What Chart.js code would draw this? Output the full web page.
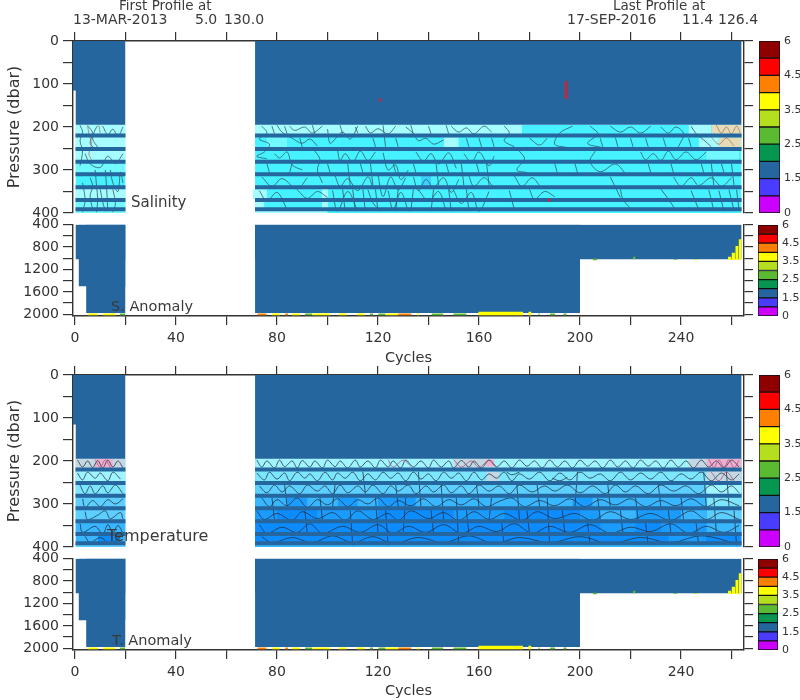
<!DOCTYPE html>
<html>
<head>
<meta charset="utf-8">
<title>Argo float sections</title>
<script src="https://cdn.jsdelivr.net/npm/chart.js@4"></script>
<style>
  body { margin: 0; background: #fff; }
  #page { position: relative; width: 800px; height: 700px; overflow: hidden; font-family: "DejaVu Sans", sans-serif; color: #3a3a3a; }
  canvas { position: absolute; }
  .lbl { position: absolute; white-space: nowrap; line-height: 1; transform: translateY(-50%); z-index: 10; }
</style>
</head>
<body>
<div id="page"></div>
<script>
// DATA //
const profileHeaders = ['First Profile at', 'Last Profile at']
const firstProfile = ['13-MAR-2013', '5.0', '130.0']
const lastProfile = ['17-SEP-2016', '11.4', '126.4']
const panelTitles = ['Salinity', 'S. Anomaly', 'Temperature', 'T. Anomaly']

const cycleTicks = [0, 20, 40, 60, 80, 100, 120, 140, 160, 180, 200, 220, 240, 260]
const cycleLabels = [0, 40, 80, 120, 160, 200, 240]
const upperTicks = [0, 50, 100, 150, 200, 250, 300, 350, 400]
const upperLabels = [0, 100, 200, 300, 400]
const lowerTicks = [400, 600, 800, 1000, 1200, 1400, 1600, 1800, 2000]
const lowerLabels = [400, 800, 1200, 1600, 2000]
const colorbarTicks = ['0', '1.5', '2.5', '3.5', '4.5', '6']
const colorbarBinTops = [1, 1.5, 2, 2.5, 3, 3.5, 4, 4.5, 5, 6]

// cycles with data, and depth where the upper block stops
const coveredCycles = [[0.2, 20], [71.3, 264]]
const shallowSliver = [-0.8, 0.5, 115]
const upperBlockBottom = 195
const thickLevels = [220, 251, 281, 310, 340, 370, 391]

// lower panels: first cycle, last cycle, deepest pressure
const anomalyColumns = [[0.2, 20, 1020], [1.4, 20, 1500], [4.4, 20, 1975], [71.3, 264, 1020], [71.3, 200, 1975]]
// first cycle, last cycle, top, bottom, value
const anomalyPatches = [
  [258.6, 260, 974, 1032, 3.8], [260, 261.5, 902, 1032, 3.8], [261.5, 262.8, 783, 1032, 3.8], [262.8, 264, 664, 1025, 3.8],
  [205, 206.8, 1010, 1035, 2.8], [221, 222, 975, 1020, 2.8], [237, 238.5, 1015, 1030, 2.8], [245, 246.5, 1015, 1030, 3.3],
  [159.7, 177.5, 1955, 2015, 3.8], [179.5, 180.8, 1955, 2015, 3.8]
]
const anomalyDashes = [
  [4.9, 9.2, 3.8], [11, 16.2, 3.8], [17.8, 19.8, 2.8],
  [72.2, 75.9, 4.2], [77.9, 81.2, 3.8], [83.2, 84.5, 4.2], [85.8, 89.1, 3.8], [91.1, 94, 2.8], [94, 101, 3.8],
  [104.3, 107.6, 3.8], [111.5, 114.8, 3.8], [116.8, 118.1, 2.8], [120.1, 123, 2.8], [123, 128, 3.8], [128, 133.3, 4.2], [135.3, 136.4, 3.8],
  [141.2, 145.9, 2.8], [149.8, 155.1, 2.8], [183.5, 184.1, 2.8], [188.1, 190.1, 2.8], [193.4, 194.7, 2.8]
]

// salinity background: first cycle, last cycle, top, bottom, shade
const salinityCells = [
  [0.2, 20, 195, 400, 'base'], [71.3, 264, 195, 400, 'base'],
  [0.2, 20, 195, 277, 'light'], [0.2, 20, 277, 308, 'mid'], [0.2, 20, 342, 368, 'light'], [0.2, 20, 368, 400, 'mid'],
  [71.3, 177, 195, 217, 'light'], [243, 252, 195, 217, 'light'], [252, 264, 195, 217, 'warm'],
  [76, 84, 224, 248, 'mid'], [146, 152, 224, 248, 'light'], [247, 255, 224, 248, 'light'], [255, 264, 224, 248, 'warm'],
  [250, 263, 255, 277, 'mid'], [70.5, 76, 345, 368, 'light'], [71.3, 75, 374, 390, 'light'],
  [97.7, 100.3, 342, 395, 'light'], [137, 141, 314, 338, 'deep'], [71.3, 100, 394, 400, 'light']
]
const salinityContours = [
  [2, 196, 3, 212, 2, 232, 3, 255, 2, 290], [5, 197, 7, 214, 6, 238, 8, 250, 9, 248, 7, 228, 8, 206, 9, 197],
  [11, 198, 13, 218, 15, 205, 17, 222, 19, 200], [4, 262, 6, 286, 10, 294, 13, 268, 16, 285, 19, 262],
  [6, 318, 7, 338, 6, 360, 7, 392], [14, 300, 15, 330, 17, 350, 18, 305, 19, 330], [10, 345, 11, 375, 12, 396],
  [3, 330, 4, 370, 3, 398], [15, 345, 16, 378, 15, 398], [8, 300, 8.5, 335, 9, 370, 8.5, 398], [12, 300, 12.5, 340, 13, 396],
  [74, 198, 76, 214, 73, 228, 77, 240, 75, 258, 72, 268, 76, 274], [80, 196, 82, 212, 86, 226, 90, 238, 93, 228, 96, 244],
  [85, 198, 87, 208, 91, 200, 94, 214, 98, 198], [100, 205, 101, 238, 103, 228, 106, 212, 109, 228, 112, 198],
  [115, 198, 117, 214, 120, 204, 124, 216, 127, 198], [131, 200, 134, 215, 136, 232, 139, 226, 142, 240, 146, 230],
  [149, 198, 152, 212, 155, 202, 158, 216, 162, 198, 165, 212], [79, 262, 81, 272, 84, 258, 86, 288, 90, 300],
  [95, 256, 97, 275, 96, 300, 98, 330], [104, 255, 105, 278, 107, 262, 110, 282, 113, 256, 116, 278, 119, 258],
  [122, 260, 124, 300, 127, 288, 129, 322, 132, 300], [135, 258, 138, 280, 141, 262, 144, 286, 148, 260, 151, 296],
  [154, 262, 157, 282, 160, 258, 164, 290, 166, 268], [74, 316, 78, 338, 82, 320, 88, 344, 92, 318],
  [103, 314, 105, 338, 108, 320, 112, 348, 116, 316, 118, 342], [120, 312, 122, 362, 125, 316, 128, 346, 131, 318],
  [134, 316, 136, 348, 139, 322, 142, 340, 146, 318, 149, 352, 152, 322], [156, 314, 158, 338, 162, 318, 166, 342],
  [73, 348, 76, 372, 80, 352, 84, 392], [88, 346, 92, 366, 96, 350, 100, 364], [102, 348, 104, 396, 108, 350, 112, 396],
  [116, 346, 118, 376, 121, 396], [124, 348, 126, 392, 129, 352, 132, 396], [136, 346, 140, 372, 144, 350, 147, 396],
  [150, 348, 153, 378, 157, 352, 160, 396, 164, 350],
  [78, 198, 79, 216], [83, 198, 84, 216], [89, 226, 90, 246], [94, 196, 95, 216], [105, 196, 106, 216], [111, 200, 112, 214], [118, 226, 119, 246],
  [122, 196, 123, 246], [127, 226, 128, 246], [133, 196, 134, 216], [140, 198, 141, 216], [147, 196, 148, 216], [155, 226, 156, 246],
  [160, 226, 161, 246], [165, 226, 166, 246], [108, 285, 109, 336], [113, 285, 114, 306], [117, 285, 118, 336], [126, 285, 127, 306],
  [134, 285, 135, 306], [143, 285, 144, 336], [147, 285, 148, 306], [153, 285, 154, 336], [159, 285, 160, 306], [163, 285, 164, 336],
  [76, 285, 77, 306], [86, 285, 85, 306], [100, 285, 101, 306], [106, 345, 107, 396], [110, 345, 111, 396], [114, 345, 115, 396],
  [119, 345, 120, 396], [128, 345, 127, 396], [134, 345, 133, 396], [142, 345, 141, 396], [148, 345, 149, 396], [155, 345, 156, 396],
  [170, 198, 172, 214, 170, 232, 174, 246], [180, 226, 184, 242, 187, 226], [197, 198, 192, 214, 190, 240, 195, 248],
  [204, 198, 207, 216, 203, 238, 209, 248], [212, 198, 216, 212, 220, 200, 224, 214, 228, 198],
  [232, 200, 235, 214, 238, 200, 241, 216, 239, 246], [244, 198, 246, 216, 249, 230, 252, 246],
  [176, 256, 178, 274, 175, 300, 179, 306], [206, 256, 204, 280, 208, 304, 214, 286, 218, 308],
  [224, 258, 226, 276, 229, 262, 232, 278, 235, 256, 238, 276, 242, 258, 246, 276, 250, 258],
  [174, 314, 177, 338, 181, 318, 184, 336], [212, 316, 214, 340, 216, 364], [237, 316, 240, 338, 244, 318, 247, 336, 252, 318, 256, 338, 260, 318],
  [172, 348, 174, 392], [180, 345, 182, 368, 186, 350, 190, 362], [216, 345, 217, 368, 220, 390], [232, 344, 235, 368, 238, 394],
  [244, 348, 247, 392], [251, 346, 253, 394], [255, 348, 257, 396], [259, 346, 261, 394], [262, 346, 263, 394],
  [208, 226, 209, 246], [214, 224, 215, 246], [220, 226, 221, 246], [226, 226, 227, 246], [233, 226, 234, 246], [243, 226, 244, 246],
  [248, 285, 249, 306], [252, 285, 253, 336], [256, 285, 257, 306], [260, 285, 261, 336], [236, 285, 237, 306], [227, 285, 228, 306],
  [190, 285, 191, 306], [198, 285, 199, 306]
]
const salinityWarmContours = [
  [5, 197, 5.5, 215, 6.5, 240, 5.5, 262, 6.5, 276], [9.5, 197, 10, 215], [254, 196, 256, 214, 258, 200, 260, 216, 262, 198, 263.5, 214],
  [252, 224, 255, 240, 258, 226, 261, 244]
]
const salinitySpikes = [[194.5, 93, 194.5, 135], [120.8, 134, 120.8, 140], [187.7, 367, 187.7, 373]]

// temperature background
const temperatureCells = [
  [0.2, 20, 195, 400, 't3'], [71.3, 264, 195, 400, 't5'],
  [0.2, 20, 195, 217, 'grey'], [8, 15, 195, 217, 'pink'], [0.2, 20, 217, 248, 't0'], [0.2, 20, 248, 278, 't1'], [0.2, 20, 278, 340, 't2'],
  [0.2, 20, 340, 370, 't3'], [9, 18, 365, 392, 't5'], [0.2, 20, 394, 400, 't2'],
  [71.3, 264, 195, 217, 't0'], [71.3, 264, 217, 248, 't1'], [71.3, 264, 248, 278, 't2'], [71.3, 250, 278, 310, 't3'],
  [71.3, 208, 310, 340, 't4'], [208, 250, 310, 340, 't3'], [71.3, 264, 370, 392, 't5'], [71.3, 264, 394, 400, 't3'],
  [84, 92, 285, 308, 't4'], [104, 112, 285, 308, 't4'], [120, 135, 285, 308, 't4'], [197, 205, 285, 308, 't4'],
  [80, 96, 314, 338, 't5'], [120, 150, 314, 338, 't5'], [170, 200, 314, 338, 't5'], [222, 240, 314, 338, 't4'],
  [177, 200, 345, 368, 't5'], [208, 222, 345, 368, 't4'], [232, 250, 345, 368, 't4'],
  [150, 166, 195, 217, 'grey'], [163, 168, 225, 247, 'grey'], [163, 166, 197, 212, 'pink'], [243, 250, 195, 217, 'grey'],
  [250, 264, 195, 217, 'pink'], [250, 264, 217, 248, 'grey'], [250, 264, 248, 278, 't0'], [250, 264, 278, 310, 't1'],
  [250, 264, 310, 340, 't2'], [250, 264, 340, 370, 't3'], [235, 250, 370, 392, 't4']
]
const temperatureContours = [
  [1, 198, 3, 214, 5, 200, 7, 215, 9, 199, 11, 216, 13, 198, 15, 214, 17, 200, 19, 216],
  [1, 228, 3, 244, 5, 226, 8, 240, 10, 228, 13, 246, 15, 226, 18, 242],
  [2, 256, 4, 276, 6, 258, 8, 276, 11, 258, 13, 274, 16, 256, 19, 276],
  [3, 288, 4, 308, 7, 292, 10, 306, 13, 290, 16, 300, 19, 288], [4, 318, 5, 336, 9, 326, 12, 316, 14, 334, 18, 320, 19, 336],
  [2, 346, 3, 366, 8, 352, 11, 370, 13, 348, 15, 366, 17, 350, 19, 368], [4, 375, 6, 390, 10, 378, 14, 392, 18, 376],
  [72, 198, 74, 214, 76, 200, 79, 216, 81, 198, 83, 213, 86, 200, 88, 216, 90, 199, 93, 214, 95, 200, 98, 216, 100, 198, 103, 213, 105, 200, 108, 216, 111, 198, 113, 214, 116, 200, 119, 216, 121, 198, 124, 214, 126, 200, 129, 216, 131, 198, 134, 214, 137, 200, 140, 216, 142, 198, 145, 214, 148, 200, 150, 216, 153, 199, 156, 214, 158, 200, 161, 216, 164, 198, 167, 214, 170, 200, 173, 216, 176, 198, 179, 212, 182, 200, 185, 216, 188, 198, 191, 214, 194, 200, 197, 216, 200, 198, 203, 212, 206, 200, 209, 216, 212, 198, 215, 214, 218, 200, 221, 216, 224, 198, 227, 212, 230, 200, 233, 216, 236, 198, 239, 214, 242, 200, 245, 216, 248, 198, 251, 214, 254, 200, 257, 216, 260, 198, 263, 214],
  [72, 228, 75, 244, 77, 226, 80, 242, 83, 228, 85, 246, 88, 226, 91, 240, 93, 230, 96, 246, 99, 226, 102, 244, 104, 228, 107, 240, 110, 226, 113, 246, 116, 230, 119, 244, 122, 226, 125, 240, 128, 228, 131, 246, 134, 226, 137, 242, 140, 230, 143, 246, 146, 226, 149, 240, 152, 228, 155, 246, 158, 226, 161, 244, 164, 230, 167, 240, 170, 226, 173, 246, 176, 230, 180, 242, 184, 226, 188, 246, 192, 228, 196, 244, 200, 226, 204, 240, 208, 230, 212, 246, 216, 226, 220, 244, 224, 228, 228, 242, 232, 226, 236, 246, 240, 230, 244, 242, 248, 226, 252, 246, 256, 228, 260, 244, 263, 230],
  [73, 258, 76, 274, 79, 256, 82, 272, 85, 258, 89, 276, 92, 256, 96, 270, 99, 258, 102, 276, 105, 256, 108, 274, 112, 258, 115, 272, 118, 256, 122, 276, 125, 258, 128, 270, 132, 256, 135, 276, 139, 258, 142, 272, 146, 256, 149, 274, 153, 258, 156, 276, 160, 256, 164, 270, 168, 258, 172, 276, 176, 256, 181, 272, 186, 258, 190, 270, 195, 256, 200, 274, 205, 258, 210, 276, 214, 256, 218, 272, 222, 258, 227, 276, 232, 256, 237, 270, 242, 258, 247, 276, 252, 256, 256, 272, 260, 258, 263, 274],
  [74, 286, 77, 306, 80, 290, 84, 304, 88, 286, 92, 308, 96, 290, 100, 302, 104, 288, 108, 306, 112, 290, 116, 300, 120, 286, 124, 306, 128, 292, 133, 304, 138, 288, 143, 306, 148, 290, 153, 302, 158, 288, 163, 306, 168, 294, 173, 286, 178, 306, 184, 292, 190, 304, 196, 288, 202, 306, 208, 290, 214, 302, 220, 288, 226, 306, 232, 292, 238, 304, 244, 288, 250, 306, 256, 290, 263, 304],
  [72, 316, 75, 336, 80, 322, 86, 338, 90, 318, 96, 334, 102, 320, 107, 338, 112, 316, 118, 336, 124, 322, 128, 338, 133, 316, 140, 334, 146, 320, 152, 338, 158, 318, 164, 336, 170, 322, 177, 338, 183, 318, 190, 334, 198, 322, 205, 338, 212, 318, 220, 336, 228, 322, 236, 338, 244, 316, 250, 336, 256, 320, 263, 336],
  [73, 348, 76, 368, 82, 354, 88, 366, 93, 346, 98, 368, 106, 352, 113, 366, 120, 348, 126, 368, 132, 352, 139, 366, 146, 348, 153, 368, 160, 352, 167, 364, 174, 346, 181, 368, 188, 352, 196, 366, 204, 348, 212, 368, 220, 354, 228, 364, 236, 346, 243, 368, 250, 352, 257, 366, 263, 350],
  [74, 376, 78, 390, 86, 378, 94, 390, 102, 374, 110, 390, 118, 376, 126, 392, 136, 378, 146, 390, 156, 374, 166, 392, 176, 378, 188, 390, 200, 376, 212, 392, 224, 378, 236, 390, 248, 374, 262, 392],
  [78, 285, 79, 336], [83, 255, 84, 306], [91, 315, 92, 368], [97, 285, 98, 336], [103, 255, 102, 306], [109, 315, 110, 396], [114, 225, 115, 276],
  [119, 285, 120, 366], [123, 315, 124, 396], [127, 255, 128, 306], [131, 285, 130, 368], [136, 225, 137, 306], [141, 315, 142, 368], [145, 255, 146, 336],
  [151, 285, 152, 396], [155, 315, 156, 368], [159, 255, 160, 306], [165, 285, 164, 336], [169, 345, 170, 396], [175, 255, 176, 336], [179, 315, 180, 368],
  [183, 255, 184, 306], [187, 285, 188, 396], [193, 315, 194, 368], [199, 225, 198, 306], [203, 345, 204, 396], [207, 285, 208, 336], [211, 255, 212, 306],
  [216, 315, 217, 368], [222, 285, 223, 336], [226, 345, 227, 396], [231, 255, 232, 306], [235, 315, 236, 368], [240, 285, 241, 336], [246, 345, 247, 396],
  [249, 225, 250, 306], [253, 285, 254, 368], [258, 225, 259, 306], [261, 315, 262, 396], [171, 226, 173, 232, 176, 226], [189, 240, 192, 246, 195, 238]
]
const temperatureWarmContours = [
  [8, 197, 10, 214, 12, 198, 14, 215], [150, 197, 153, 214, 157, 200, 160, 215, 164, 198, 167, 214],
  [124, 197, 126, 214, 130, 198, 133, 212], [251, 196, 253, 215, 255, 198, 257, 214, 259, 197, 261, 216, 263, 198],
  [252, 226, 255, 246, 258, 226, 261, 246]
]

// COLOURS //
const blockColor = '#25669e'
const axisColor = '#333333'
const contourColor = 'rgba(50, 85, 95, 0.78)'
const darkContourColor = 'rgba(35, 50, 65, 0.8)'
const warmColor = 'rgba(185, 110, 90, 0.8)'
const pinkColor = 'rgba(170, 80, 120, 0.8)'
const binColors = ['#cc00ff', '#4a3cff', '#25669e', '#06964f', '#5abb32', '#b4de1e', '#ffff00', '#ff8000', '#ff0000', '#8f0000']
const shades = {
  base: '#46f2ff', light: '#a5fdff', mid: '#72f8ff', deep: '#3ad0ff', warm: '#e2dcb8',
  t0: '#a0f4ff', t1: '#7ce6ff', t2: '#5ccfff', t3: '#38b6ff', t4: '#1a9cff', t5: '#0c8cff', grey: '#c4d8e4', pink: '#eeb0d0'
}

// HELPERS //
function binColor(value) {
  return binColors[colorbarBinTops.findIndex(top => value <= top)]
}

function cell(c0, c1, top, bottom, color) {
  return {
    data: [{ x: c0, y: top }, { x: c1, y: top }],
    fill: { value: bottom },
    backgroundColor: color,
    borderColor: 'transparent',
    borderWidth: 0
  }
}

function polylines(list, color, width, tension) {
  const points = []
  list.forEach(line => {
    for (let i = 0; i < line.length; i += 2) points.push({ x: line[i], y: line[i + 1] })
    points.push({ x: null, y: null })
  })
  return { data: points, borderColor: color, borderWidth: width, fill: false, spanGaps: false, tension: tension || 0 }
}

function thickLines() {
  const lines = []
  thickLevels.forEach(level => {
    coveredCycles.forEach(range => lines.push([range[0], level, range[1], level]))
  })
  return polylines(lines, blockColor, 4)
}

function upperDatasets(cells, contours, warm, contour) {
  const sets = []
  cells.forEach(c => sets.push(cell(c[0], c[1], c[2], c[3], shades[c[4]])))
  sets.push(polylines(contours, contour, 1, 0.35))
  sets.push(polylines(warm.lines, warm.color, 1, 0.35))
  sets.push(thickLines())
  coveredCycles.forEach(range => sets.push(cell(range[0], range[1], 0, upperBlockBottom, blockColor)))
  sets.push(cell(shallowSliver[0], shallowSliver[1], 0, shallowSliver[2], blockColor))
  return sets
}

function anomalyDatasets() {
  const sets = []
  anomalyColumns.forEach(c => sets.push(cell(c[0], c[1], 400, c[2], blockColor)))
  anomalyDashes.forEach(d => sets.push(cell(d[0], d[1], 1985, 2015, binColor(d[2]))))
  anomalyPatches.forEach(p => sets.push(cell(p[0], p[1], p[2], p[3], binColor(p[4]))))
  return sets
}

// ticks come from the arrays above, and the axis boxes are forced so the plot lands exactly
function fixedTicks(values) {
  return scale => { scale.ticks = values.map(value => ({ value })) }
}

function fixBox(prop, size) {
  return scale => {
    scale[prop] = size
    scale.paddingTop = scale.paddingBottom = scale.paddingLeft = scale.paddingRight = 0
  }
}

function drawPanel(box, sets) {
  const canvas = document.createElement('canvas')
  canvas.width = 800
  canvas.height = box.height
  canvas.style.left = '0px'
  canvas.style.top = box.top + 'px'
  document.getElementById('page').appendChild(canvas)

  const tickStyle = { color: axisColor, font: { family: 'DejaVu Sans', size: 14 } }
  new Chart(canvas.getContext('2d'), {
    type: 'line',
    // the first dataset is painted last, so flip the painter order
    data: { datasets: sets.slice().reverse() },
    options: {
      responsive: false,
      animation: false,
      elements: { point: { radius: 0 } },
      layout: { autoPadding: false, padding: { top: box.padTop, bottom: box.padBottom, left: 0, right: 0 } },
      plugins: { legend: { display: false }, tooltip: { enabled: false } },
      scales: {
        x: {
          type: 'linear',
          position: box.xPos,
          min: -0.79,
          max: 264.95,
          afterBuildTicks: fixedTicks(cycleTicks),
          afterFit: fixBox('height', box.xHeight),
          grid: { drawOnChartArea: false, tickLength: 9, color: axisColor, lineWidth: 1.2 },
          border: { color: axisColor, width: 1.4 },
          ticks: {
            ...tickStyle,
            display: box.xPos === 'bottom',
            autoSkip: false,
            maxRotation: 0,
            padding: 5,
            callback: v => (cycleLabels.includes(v) ? String(v) : '')
          },
          title: { display: box.xPos === 'bottom', text: 'Cycles', color: axisColor, padding: 0, font: { family: 'DejaVu Sans', size: 14.5 } }
        },
        y: {
          type: 'linear',
          position: 'left',
          reverse: true,
          min: box.yMin,
          max: box.yMax,
          afterBuildTicks: fixedTicks(box.ticks),
          afterFit: fixBox('width', 73),
          grid: { drawOnChartArea: false, tickLength: 10, color: axisColor, lineWidth: 1.2 },
          border: { color: axisColor, width: 1.4 },
          ticks: {
            ...tickStyle,
            autoSkip: false,
            padding: 4,
            callback: v => (box.labels.includes(v) ? String(v) : '')
          },
          title: { display: box.xPos === 'top', text: 'Pressure (dbar)', color: axisColor, padding: { top: 5, bottom: 0 }, font: { family: 'DejaVu Sans', size: 16 } }
        },
        yRight: {
          type: 'linear',
          position: 'right',
          reverse: true,
          min: box.yMin,
          max: box.yMax,
          afterBuildTicks: fixedTicks(box.ticks),
          afterFit: fixBox('width', 56),
          grid: { drawOnChartArea: false, tickLength: 9, color: axisColor, lineWidth: 1.2 },
          border: { color: axisColor, width: 1.4 },
          ticks: { display: false }
        }
      }
    }
  })
}

function drawColorbar(box) {
  const canvas = document.createElement('canvas')
  canvas.width = 50
  canvas.height = box.bottom - box.top + 16
  canvas.style.left = '750px'
  canvas.style.top = (box.top - 8) + 'px'
  document.getElementById('page').appendChild(canvas)

  new Chart(canvas.getContext('2d'), {
    type: 'bar',
    data: {
      labels: [''],
      datasets: binColors.map(color => ({
        data: [1],
        backgroundColor: color,
        borderColor: '#111',
        borderWidth: 1,
        borderSkipped: false,
        barPercentage: 1,
        categoryPercentage: 1
      }))
    },
    options: {
      responsive: false,
      animation: false,
      layout: { autoPadding: false, padding: { top: 8, bottom: 8, left: box.left - 750, right: 0 } },
      plugins: { legend: { display: false }, tooltip: { enabled: false } },
      scales: {
        x: { stacked: true, display: false },
        y: {
          stacked: true,
          position: 'right',
          min: 0,
          max: 10,
          afterFit: fixBox('width', 800 - box.right),
          grid: { display: false, drawTicks: false },
          border: { display: false },
          ticks: {
            stepSize: 2,
            padding: 4,
            autoSkip: false,
            color: axisColor,
            font: { family: 'DejaVu Sans', size: 11 },
            callback: v => colorbarTicks[v / 2]
          }
        }
      }
    }
  })
}

function addLabel(text, x, y, size) {
  const span = document.createElement('span')
  span.className = 'lbl'
  span.textContent = text
  span.style.left = x + 'px'
  span.style.top = y + 'px'
  span.style.fontSize = size + 'px'
  document.getElementById('page').appendChild(span)
}

// PANELS //
const upperBox = { yMin: 0, yMax: 400, ticks: upperTicks, labels: upperLabels, xPos: 'top' }
const lowerBox = { yMin: 400, yMax: 2030, ticks: lowerTicks, labels: lowerLabels, xPos: 'bottom' }

drawPanel({ ...upperBox, top: 0, height: 222, padTop: 0, padBottom: 9, xHeight: 41 },
  upperDatasets(salinityCells, salinityContours, { lines: salinityWarmContours, color: warmColor }, contourColor)
    .concat([polylines(salinitySpikes, '#ff1010', 2)]))
drawPanel({ ...lowerBox, top: 216, height: 151, padTop: 8.5, padBottom: 0, xHeight: 51 }, anomalyDatasets())
drawPanel({ ...upperBox, top: 360, height: 196, padTop: 0, padBottom: 9, xHeight: 15 },
  upperDatasets(temperatureCells, temperatureContours, { lines: temperatureWarmContours, color: pinkColor }, darkContourColor))
drawPanel({ ...lowerBox, top: 550, height: 150, padTop: 8.5, padBottom: 0, xHeight: 50 }, anomalyDatasets())

drawColorbar({ left: 759, right: 780, top: 41, bottom: 213 })
drawColorbar({ left: 758, right: 778, top: 224.5, bottom: 316 })
drawColorbar({ left: 759, right: 780, top: 375, bottom: 547 })
drawColorbar({ left: 758, right: 778, top: 558.5, bottom: 650 })

// TEXT //
addLabel(profileHeaders[0], 119, 6, 13.5)
addLabel(firstProfile[0], 73, 19, 14)
addLabel(firstProfile[1], 195, 19, 14)
addLabel(firstProfile[2], 224, 19, 14)
addLabel(profileHeaders[1], 613, 6, 13.5)
addLabel(lastProfile[0], 567, 19, 14)
addLabel(lastProfile[1], 682, 19, 14)
addLabel(lastProfile[2], 718, 19, 14)
addLabel(panelTitles[0], 131, 202, 15)
addLabel(panelTitles[1], 111, 306, 14.5)
addLabel(panelTitles[2], 107, 536, 16)
addLabel(panelTitles[3], 112, 640, 14.5)
</script>
</body>
</html>
